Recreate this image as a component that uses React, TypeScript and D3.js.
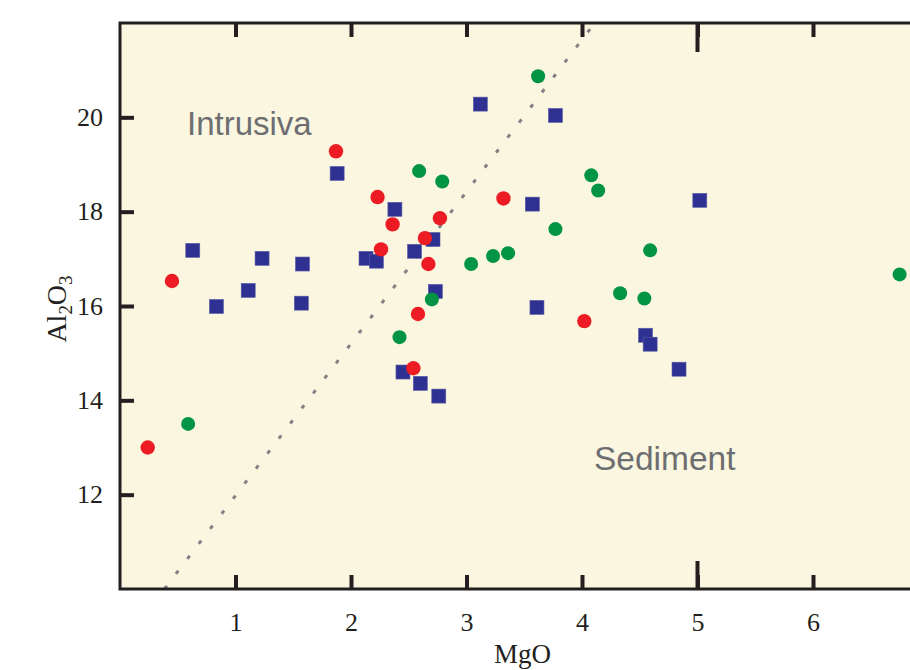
import React, { useEffect, useRef } from "react";
import * as d3 from "d3";

// MgO vs Al2O3 values
const blueMgO = [0.63, 1.23, 1.58, 1.11, 0.835, 1.57, 2.13, 2.22, 2.38, 2.55, 2.45, 3.12, 3.77, 1.88, 3.57, 2.71, 2.73, 3.61, 4.55, 4.59, 4.84, 2.6, 2.76, 5.02];
const blueAl = [17.18, 17.01, 16.89, 16.33, 15.99, 16.06, 17.01, 16.95, 18.05, 17.16, 14.6, 20.28, 20.04, 18.81, 18.16, 17.41, 16.31, 15.97, 15.38, 15.19, 14.66, 14.36, 14.09, 18.24];

const redMgO = [0.24, 0.45, 1.87, 2.23, 2.36, 2.26, 2.77, 3.32, 2.64, 2.67, 2.58, 4.02, 2.54];
const redAl = [13.0, 16.53, 19.28, 18.31, 17.73, 17.2, 17.86, 18.28, 17.44, 16.89, 15.83, 15.68, 14.68];

const greenMgO = [3.62, 2.59, 2.79, 4.08, 4.14, 3.77, 3.04, 3.23, 3.36, 4.59, 4.33, 4.54, 2.7, 2.42, 0.59, 6.75];
const greenAl = [20.87, 18.86, 18.64, 18.77, 18.45, 17.63, 16.89, 17.06, 17.12, 17.18, 16.27, 16.16, 16.14, 15.34, 13.5, 16.67];

// dotted boundary line
const lineMgO = [0.385, 4.11];
const lineAl = [10, 22];

const xTicks = [1, 2, 3, 4, 5, 6];
const xMajorTicks = [5];
const yTicks = [12, 14, 16, 18, 20];

export default function App() {
  const ref = useRef<SVGSVGElement>(null);

  useEffect(() => {
    const svg = d3.select(ref.current);
    svg.selectAll("*").remove();

    const left = 120, top = 23, bottom = 589, right = 928.5;
    const x = d3.scaleLinear().domain([0, 7]).range([left, right]);
    const y = d3.scaleLinear().domain([10, 22]).range([bottom, top]);
    const ink = "#231F20";
    const serif = "'Liberation Serif', 'Times New Roman', serif";

    svg
      .append("rect")
      .attr("x", left)
      .attr("y", top)
      .attr("width", right - left)
      .attr("height", bottom - top)
      .attr("fill", "#FBF6DF");

    // dotted line
    svg
      .append("path")
      .attr("d", d3.line<number>().x((d) => x(d)).y((d, i) => y(lineAl[i]))(lineMgO))
      .attr("stroke", "#808285")
      .attr("stroke-width", 3)
      .attr("stroke-dasharray", "4 14.9")
      .attr("fill", "none");

    // squares
    const s = 14;
    svg
      .append("g")
      .selectAll("rect")
      .data(blueMgO)
      .enter()
      .append("rect")
      .attr("x", (d) => x(d) - s / 2)
      .attr("y", (d, i) => y(blueAl[i]) - s / 2)
      .attr("width", s)
      .attr("height", s)
      .attr("fill", "#2E3192")
      .attr("stroke", "#5a5ca8")
      .attr("stroke-width", 0.6);

    svg
      .append("g")
      .selectAll("circle")
      .data(redMgO)
      .enter()
      .append("circle")
      .attr("cx", (d) => x(d))
      .attr("cy", (d, i) => y(redAl[i]))
      .attr("r", 7.2)
      .attr("fill", "#ED1C24");

    svg
      .append("g")
      .selectAll("circle")
      .data(greenMgO)
      .enter()
      .append("circle")
      .attr("cx", (d) => x(d))
      .attr("cy", (d, i) => y(greenAl[i]))
      .attr("r", 7)
      .attr("fill", "#009444");

    // frame
    svg
      .append("path")
      .attr("d", `M${right},${top}H${left}V${bottom}H${right}`)
      .attr("stroke", ink)
      .attr("stroke-width", 3)
      .attr("fill", "none");

    // axes
    const bottomAxis = svg
      .append("g")
      .attr("transform", `translate(0,${bottom})`)
      .call(
        d3.axisBottom(x).tickValues(xTicks).tickSize(-14).tickSizeOuter(0).tickPadding(24).tickFormat(d3.format("d"))
      );
    const topAxis = svg
      .append("g")
      .attr("transform", `translate(0,${top})`)
      .call(d3.axisTop(x).tickValues(xTicks).tickSize(-14).tickSizeOuter(0).tickFormat(() => ""));
    const leftAxis = svg
      .append("g")
      .attr("transform", `translate(${left},0)`)
      .call(d3.axisLeft(y).tickValues(yTicks).tickSize(-14).tickSizeOuter(0).tickPadding(17));

    [bottomAxis, topAxis, leftAxis].forEach((g) => {
      g.select(".domain").remove();
      g.selectAll(".tick line").attr("stroke", ink).attr("stroke-width", 4);
      g.selectAll(".tick text")
        .attr("fill", ink)
        .style("font-family", serif)
        .style("font-size", "26px");
    });

    // longer ticks at 5 (top and bottom)
    const major = svg.append("g");
    major
      .selectAll("line.b")
      .data(xMajorTicks)
      .enter()
      .append("line")
      .attr("x1", (d) => x(d))
      .attr("x2", (d) => x(d))
      .attr("y1", bottom)
      .attr("y2", bottom - 28)
      .attr("stroke", ink)
      .attr("stroke-width", 4);
    major
      .selectAll("line.t")
      .data(xMajorTicks)
      .enter()
      .append("line")
      .attr("x1", (d) => x(d))
      .attr("x2", (d) => x(d))
      .attr("y1", top)
      .attr("y2", top + 29)
      .attr("stroke", ink)
      .attr("stroke-width", 4);

    // axis titles
    svg
      .append("text")
      .attr("x", 522.5)
      .attr("y", 663)
      .attr("text-anchor", "middle")
      .attr("fill", ink)
      .style("font-family", serif)
      .style("font-size", "27px")
      .text("MgO");

    const yl = svg
      .append("text")
      .attr("transform", "translate(66,309) rotate(-90)")
      .attr("text-anchor", "middle")
      .attr("fill", ink)
      .style("font-family", serif)
      .style("font-size", "28px");
    yl.append("tspan").text("Al");
    yl.append("tspan").attr("dy", 6).style("font-size", "19px").text("2");
    yl.append("tspan").attr("dy", -6).text("O");
    yl.append("tspan").attr("dy", 6).style("font-size", "19px").text("3");

    // region labels
    svg
      .append("text")
      .attr("x", 187)
      .attr("y", 135)
      .attr("fill", "#6D6E71")
      .style("font-family", "'Liberation Sans', Arial, sans-serif")
      .style("font-size", "33px")
      .text("Intrusiva");
    svg
      .append("text")
      .attr("x", 594)
      .attr("y", 470)
      .attr("fill", "#6D6E71")
      .style("font-family", "'Liberation Sans', Arial, sans-serif")
      .style("font-size", "33.5px")
      .text("Sediment");
  }, []);

  return (
    <svg
      ref={ref}
      width={910}
      height={670}
      style={{ position: "absolute", left: 0, top: 0, overflow: "hidden", background: "#fff" }}
    />
  );
}
